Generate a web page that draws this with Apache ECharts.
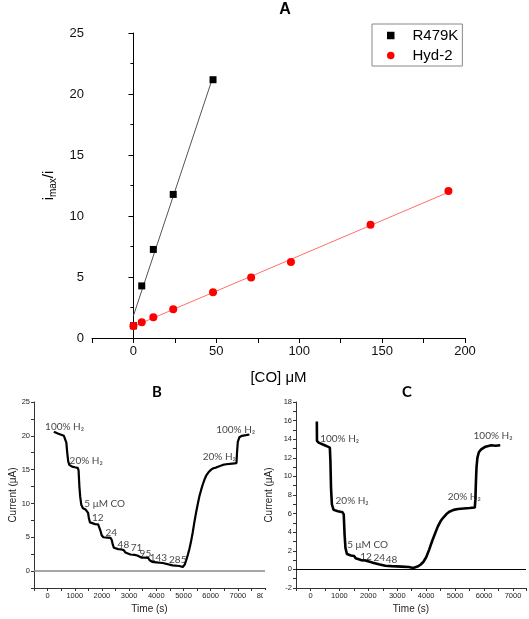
<!DOCTYPE html>
<html><head><meta charset="utf-8">
<script src="https://cdn.jsdelivr.net/npm/echarts@6/dist/echarts.min.js"></script>
<style>html,body{margin:0;padding:0;background:#fff}#c{width:529px;height:619px}</style>
</head><body><div id="c"></div>
<script>
// ---- Panel A data ----
const r479kCO = [0, 5, 12, 24, 48];
const r479kRatio = [1.0, 4.27, 7.26, 11.77, 21.17];
const hyd2CO = [0, 5, 12, 24, 48, 71, 95, 143, 190];
const hyd2Ratio = [0.99, 1.29, 1.70, 2.35, 3.75, 4.96, 6.22, 9.28, 12.05];
const aXTicks = [0, 50, 100, 150, 200];
const aYTicks = [0, 5, 10, 15, 20, 25];

// ---- Panel B data (R479K chronoamperometry) ----
const bTime = [230,300,400,500,600,660,690,720,760,800,900,1000,1110,1140,1170,1200,1240,1300,1400,1460,1490,1520,1560,1620,1750,1860,1910,1950,1990,2050,2200,2320,2360,2400,2440,2500,2600,2720,2800,2860,2920,3050,3200,3300,3350,3450,3570,3700,3760,3850,4000,4240,4300,4485,4600,4850,4975,5050,5100,5160,5220,5280,5340,5400,5466,5530,5588,5650,5710,5770,5834,5920,6018,6100,6200,6320,6445,6570,6691,6800,6950,6970,7000,7059,7150,7300,7426];
const bCurrent = [20.6,20.4,20.3,20.15,20.0,19.95,19.0,17.6,16.2,15.7,15.45,15.35,15.25,14.9,12.5,11.0,9.8,9.3,9.1,9.0,8.6,7.8,7.2,7.0,6.95,6.9,6.7,5.9,5.3,5.0,4.95,4.9,4.6,3.9,3.45,3.3,3.25,3.2,3.1,2.75,2.55,2.45,2.4,2.3,2.1,2.0,2.0,1.95,1.6,1.35,1.3,1.2,1.1,0.95,0.85,0.75,0.6,1.0,1.6,2.4,3.3,4.4,5.7,7.2,8.7,10.0,11.1,12.0,12.8,13.5,14.1,14.6,15.0,15.2,15.3,15.5,15.7,15.8,15.85,15.9,15.95,17.5,19.1,19.8,20.0,20.1,20.2];
const bNotes = [[625,21.3,'100% H₂'],[1420,16.3,'20% H₂'],[2100,10.0,'5 μM CO'],[1850,7.9,'12'],[2340,5.7,'24'],[2790,3.9,'48'],[3270,3.4,'71'],[3600,2.6,'95'],[4080,1.9,'143'],[4790,1.7,'285'],[6320,16.9,'20% H₂'],[6920,20.9,'100% H₂']];
const bXTicks = [0,1000,2000,3000,4000,5000,6000,7000,8000];
const bYTicks = [0,5,10,15,20,25];

// ---- Panel C data (Hyd-2 chronoamperometry) ----
const cTime = [220,225,300,450,600,670,690,710,740,800,950,1110,1150,1180,1210,1260,1400,1508,1560,1621,1750,1900,2019,2190,2360,2588,2800,3150,3400,3550,3700,3800,3900,4000,4100,4200,4300,4400,4500,4600,4700,4800,4950,5100,5300,5500,5680,5700,5720,5740,5770,5820,5900,6050,6250,6400,6560];
const cCurrent = [15.9,13.8,13.6,13.4,13.2,13.1,11.6,8.8,7.0,6.4,6.25,6.15,5.9,3.7,2.3,1.65,1.5,1.45,1.2,1.15,1.0,0.95,0.85,0.7,0.55,0.4,0.35,0.3,0.25,0.15,0.3,0.5,0.8,1.3,2.1,3.0,3.8,4.6,5.2,5.6,5.95,6.2,6.4,6.5,6.55,6.6,6.65,7.5,9.5,11.0,12.0,12.6,12.9,13.2,13.35,13.3,13.35];
const cNotes = [[1010,14.05,'100% H₂'],[1440,7.4,'20% H₂'],[1975,2.6,'5 μM CO'],[1917,1.33,'12'],[2376,1.2,'24'],[2800,1.05,'48'],[5316,7.85,'20% H₂'],[6310,14.4,'100% H₂']];
const cXTicks = [0,1000,2000,3000,4000,5000,6000,7000];
const cYTicks = [-2,0,2,4,6,8,10,12,14,16,18];

function linFit(xs, ys) {
  const n = xs.length;
  const mx = xs.reduce((a,b)=>a+b,0)/n, my = ys.reduce((a,b)=>a+b,0)/n;
  let sxy = 0, sxx = 0;
  for (let i=0;i<n;i++){ sxy += (xs[i]-mx)*(ys[i]-my); sxx += (xs[i]-mx)**2; }
  const b = sxy/sxx, a = my - b*mx;
  const x0 = Math.min(...xs), x1 = Math.max(...xs);
  return [[x0, a+b*x0],[x1, a+b*x1]];
}
const zip = (xs, ys) => xs.map((x,i)=>[x, ys[i]]);

const AF = 'Liberation Sans, Arial, sans-serif';
const BF = 'Lato, Liberation Sans, sans-serif';
const smallLbl = {fontFamily: AF, fontSize: 7.5, color: '#222', margin: 4};

function notesSeries(notes, xi) {
  return {
    type: 'scatter', xAxisIndex: xi, yAxisIndex: xi, symbolSize: 0, silent: true, z: 5,
    data: notes,
    label: {show: true, position: 'inside', formatter: p => p.data[2], fontFamily: BF, fontSize: 10, color: '#111'}
  };
}

const chart = echarts.init(document.getElementById('c'), null, {renderer: 'canvas'});
chart.setOption({
  animation: false,
  backgroundColor: '#fff',
  grid: [
    {left: 92, top: 33, width: 373, height: 305},
    {left: 34, top: 402, width: 231, height: 186},
    {left: 296, top: 402, width: 233, height: 186}
  ],
  legend: {
    data: [
      {name: 'R479K', icon: 'rect'},
      {name: 'Hyd-2', icon: 'circle'}
    ],
    orient: 'vertical', left: 372, top: 24,
    itemWidth: 7.5, itemHeight: 7.5, itemGap: 5,
    padding: [4, 4, 3, 15],
    borderColor: '#888', borderWidth: 1,
    textStyle: {fontFamily: AF, fontSize: 15, color: '#000', lineHeight: 15, padding: [0, 0, 0, 13]}
  },
  xAxis: [
    {gridIndex: 0, type: 'value', min: -25, max: 200, interval: 25,
     name: '[CO] μM', nameLocation: 'middle', nameGap: 32,
     nameTextStyle: {fontFamily: AF, fontSize: 15, color: '#000'},
     axisLine: {lineStyle: {color: '#000', width: 1}},
     axisTick: {length: 5, lineStyle: {color: '#000'}},
     axisLabel: {fontFamily: AF, fontSize: 13, color: '#111', margin: 7, formatter: v => aXTicks.includes(v) ? String(v) : ''},
     splitLine: {show: false}},
    {gridIndex: 1, type: 'value', min: -500, max: 8000, interval: 500,
     name: 'Time (s)', nameLocation: 'middle', nameGap: 16,
     nameTextStyle: {fontFamily: AF, fontSize: 10, color: '#222'},
     axisLine: {onZero: false, lineStyle: {color: '#333', width: 1}},
     axisTick: {length: 3, lineStyle: {color: '#333'}},
     axisLabel: Object.assign({}, smallLbl, {formatter: v => bXTicks.includes(v) ? String(v) : ''}),
     splitLine: {show: false}},
    {gridIndex: 2, type: 'value', min: -500, max: 7450, interval: 500,
     name: 'Time (s)', nameLocation: 'middle', nameGap: 16,
     nameTextStyle: {fontFamily: AF, fontSize: 10, color: '#222'},
     axisLine: {onZero: false, lineStyle: {color: '#333', width: 1}},
     axisTick: {length: 3, lineStyle: {color: '#333'}},
     axisLabel: Object.assign({}, smallLbl, {formatter: v => cXTicks.includes(v) ? String(v) : ''}),
     splitLine: {show: false}}
  ],
  yAxis: [
    {gridIndex: 0, type: 'value', min: 0, max: 25, interval: 5,
     name: '{a|i}{s|max}{a|/i}', nameLocation: 'middle', nameGap: 22, nameRotate: 90,
     nameTextStyle: {fontFamily: AF, fontSize: 15, color: '#000',
       rich: {a: {fontFamily: AF, fontSize: 15, color: '#000', lineHeight: 16},
              s: {fontFamily: AF, fontSize: 10, color: '#000', lineHeight: 10, padding: [10, 0, 0, 0]}}},
     axisLine: {show: true, lineStyle: {color: '#000', width: 1}},
     axisTick: {length: 5, lineStyle: {color: '#000'}},
     minorTick: {show: true, splitNumber: 2, length: 3, lineStyle: {color: '#000'}},
     axisLabel: {fontFamily: AF, fontSize: 13, color: '#111', margin: 8, formatter: v => aYTicks.includes(v) ? String(v) : ''},
     splitLine: {show: false}},
    {gridIndex: 1, type: 'value', min: -2.5, max: 25, interval: 2.5,
     name: 'Current (μA)', nameLocation: 'middle', nameGap: 15, nameRotate: 90,
     nameTextStyle: {fontFamily: AF, fontSize: 10, color: '#222'},
     axisLine: {show: true, onZero: false, lineStyle: {color: '#333', width: 1}},
     axisTick: {length: 3, lineStyle: {color: '#333'}},
     axisLabel: Object.assign({}, smallLbl, {formatter: v => bYTicks.includes(v) ? String(v) : ''}),
     splitLine: {show: false}},
    {gridIndex: 2, type: 'value', min: -2, max: 18, interval: 1,
     name: 'Current (μA)', nameLocation: 'middle', nameGap: 22, nameRotate: 90,
     nameTextStyle: {fontFamily: AF, fontSize: 10, color: '#222'},
     axisLine: {show: true, onZero: false, lineStyle: {color: '#333', width: 1}},
     axisTick: {length: 3, lineStyle: {color: '#333'}},
     axisLabel: Object.assign({}, smallLbl, {formatter: v => cYTicks.includes(v) ? String(v) : ''}),
     splitLine: {show: false}}
  ],
  series: [
    {name: 'R479K fit', type: 'line', xAxisIndex: 0, yAxisIndex: 0, data: linFit(r479kCO, r479kRatio),
     showSymbol: false, silent: true, lineStyle: {color: '#555', width: 1}, z: 1},
    {name: 'Hyd-2 fit', type: 'line', xAxisIndex: 0, yAxisIndex: 0, data: linFit(hyd2CO, hyd2Ratio),
     showSymbol: false, silent: true, lineStyle: {color: '#ff6f6f', width: 1}, z: 1},
    {name: 'R479K', type: 'scatter', xAxisIndex: 0, yAxisIndex: 0, data: zip(r479kCO, r479kRatio),
     symbol: 'rect', symbolSize: 7, itemStyle: {color: '#000', opacity: 1}, z: 3},
    {name: 'Hyd-2', type: 'scatter', xAxisIndex: 0, yAxisIndex: 0, data: zip(hyd2CO, hyd2Ratio),
     symbol: 'circle', symbolSize: 8, itemStyle: {color: '#ff0000', opacity: 1}, z: 4},
    {name: 'B trace', type: 'line', xAxisIndex: 1, yAxisIndex: 1, data: zip(bTime, bCurrent),
     showSymbol: false, lineStyle: {color: '#000', width: 2.2},
     markLine: {silent: true, symbol: ['none','none'], label: {show: false},
       lineStyle: {color: '#8a8a8a', width: 1.5, type: 'solid'}, data: [{yAxis: 0}]}},
    notesSeries(bNotes, 1),
    {name: 'C trace', type: 'line', xAxisIndex: 2, yAxisIndex: 2, data: zip(cTime, cCurrent),
     showSymbol: false, lineStyle: {color: '#000', width: 2.6},
     markLine: {silent: true, symbol: ['none','none'], label: {show: false},
       lineStyle: {color: '#000', width: 1, type: 'solid'}, data: [{yAxis: 0}]}},
    notesSeries(cNotes, 2)
  ],
  graphic: [
    {type: 'text', x: 285, y: 10, style: {text: 'A', font: 'bold 16px ' + AF, fill: '#000', align: 'center', verticalAlign: 'middle'}},
    {type: 'text', x: 157, y: 392, style: {text: 'B', font: 'bold 15px ' + BF, fill: '#000', align: 'center', verticalAlign: 'middle'}},
    {type: 'text', x: 407, y: 392, style: {text: 'C', font: 'bold 15px ' + BF, fill: '#000', align: 'center', verticalAlign: 'middle'}},
    {type: 'rect', shape: {x: 263, y: 590, width: 20, height: 14}, style: {fill: '#fff'}, z: 100}
  ]
});
</script></body></html>
